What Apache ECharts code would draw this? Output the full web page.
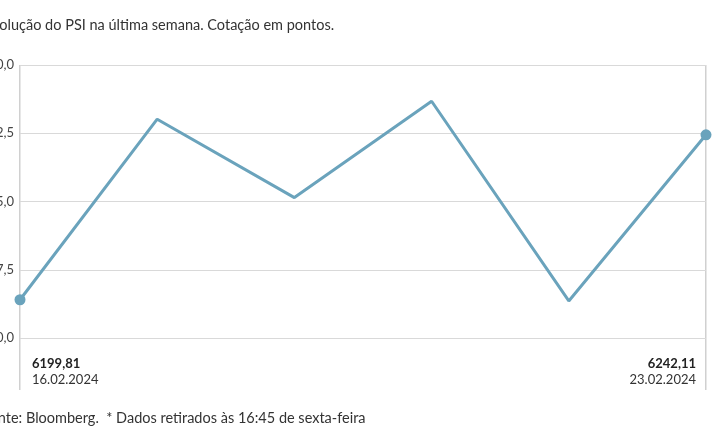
<!DOCTYPE html>
<html>
<head>
<meta charset="utf-8">
<script src="https://cdn.jsdelivr.net/npm/echarts@6/dist/echarts.min.js"></script>
<style>
  html, body { margin: 0; padding: 0; background: #fff; }
  #chart { width: 715px; height: 445px; }
</style>
</head>
<body>
<div id="chart"></div>
<script>
// data
var dates = ['16.02.2024', '19.02.2024', '20.02.2024', '21.02.2024', '22.02.2024', '23.02.2024'];
var psi = [6199.81, 6246.1, 6226.0, 6250.7, 6199.5, 6242.11];
var yMin = 6190, yMax = 6260, yStep = 17.5;

var fmt = function(v, d) { return v.toFixed(d).replace('.', ','); };
var font = 'Lato, "Open Sans", sans-serif';
var last = psi.length - 1;

var myChart = echarts.init(document.getElementById('chart'));

var option = {
    animation: false,
    grid: { left: 20, right: 9, top: 65, bottom: 107, containLabel: false, outerBoundsMode: 'none' },
    xAxis: {
        type: 'category',
        boundaryGap: false,
        data: dates,
        axisLine: { show: false },
        axisTick: { show: false },
        axisLabel: { show: false }
    },
    yAxis: {
        type: 'value',
        min: yMin,
        max: yMax,
        interval: yStep,
        axisLine: { show: false },
        axisTick: { show: false },
        splitLine: { lineStyle: { color: '#d9d9d9', width: 1 } },
        axisLabel: {
            color: '#444', fontSize: 13, fontFamily: font, margin: 6,
            formatter: function(v) { return fmt(v, 1); }
        }
    },
    series: [{
        type: 'line',
        data: psi,
        lineStyle: { color: '#6aa3bc', width: 3 },
        itemStyle: { color: '#6aa3bc' },
        symbol: 'circle',
        symbolSize: function(v, p) { return (p.dataIndex === 0 || p.dataIndex === last) ? 11 : 0; }
    }],
    graphic: [
        // vertical rules at both ends
        { type: 'rect', left: 19, top: 65, shape: { width: 1.5, height: 325 }, style: { fill: '#d0d0d0' } },
        { type: 'rect', left: 705, top: 65, shape: { width: 1.5, height: 325 }, style: { fill: '#d0d0d0' } },
        { type: 'text', left: -16, top: 18, style: { text: 'Evolução do PSI na última semana. Cotação em pontos.', font: '14.5px ' + font, fill: '#333' } },
        { type: 'text', left: 32, top: 357, style: { text: fmt(psi[0], 2), font: 'bold 13px ' + font, fill: '#222' } },
        { type: 'text', left: 32, top: 373, style: { text: dates[0], font: '13px ' + font, fill: '#333' } },
        { type: 'text', right: 19, top: 357, style: { text: fmt(psi[last], 2), font: 'bold 13px ' + font, fill: '#222', textAlign: 'right' } },
        { type: 'text', right: 19, top: 373, style: { text: dates[last], font: '13px ' + font, fill: '#333', textAlign: 'right' } },
        { type: 'text', left: -18, top: 411, style: { text: 'Fonte: Bloomberg.  * Dados retirados às 16:45 de sexta-feira', font: '14.5px ' + font, fill: '#333' } }
    ]
};

myChart.setOption(option, true);
</script>
</body>
</html>
